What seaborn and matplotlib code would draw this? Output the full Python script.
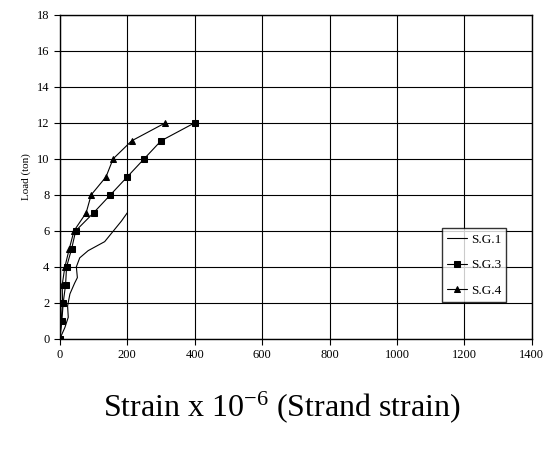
import matplotlib
matplotlib.use("Agg")
import matplotlib.pyplot as plt
import seaborn as sns

load_sg1 = [0, 0.63, 1.2, 1.83, 2.5, 3.1, 3.4, 4, 4.5, 4.9, 5.4, 6.55, 7]
strain_sg1 = [0, 15, 25, 23, 30, 44, 52, 49, 59, 84, 133, 183, 200]

load_sg3 = [0, 1, 2, 3, 4, 5, 6, 7, 8, 9, 10, 11, 12]
strain_sg3 = [0, 6, 10, 17, 20, 35, 47, 100, 150, 200, 250, 300, 400]

load_sg4 = [0, 1, 2, 3, 4, 5, 6, 7, 8, 9, 10, 11, 12]
strain_sg4 = [0, 4, 8, 7, 15, 28, 42, 78, 93, 137, 158, 213, 313]

sns.set_style("white")
plt.rcParams['font.family'] = ['Liberation Serif', 'DejaVu Serif']
plt.rcParams['mathtext.fontset'] = 'custom'
plt.rcParams['mathtext.rm'] = 'Liberation Serif'
plt.rcParams['mathtext.default'] = 'regular'
plt.rcParams['text.color'] = 'black'
plt.rcParams['axes.labelcolor'] = 'black'
plt.rcParams['xtick.color'] = 'black'
plt.rcParams['ytick.color'] = 'black'

fig, ax = plt.subplots(figsize=(5.54, 4.5), dpi=100)
fig.subplots_adjust(left=0.108, right=0.96, top=0.967, bottom=0.247)

mk = dict(markeredgecolor='black', markerfacecolor='black')
sns.lineplot(x=strain_sg1, y=load_sg1, ax=ax, color='black', lw=0.8,
             sort=False, label='S.G.1')
sns.lineplot(x=strain_sg3, y=load_sg3, ax=ax, color='black', lw=0.8,
             marker='s', markersize=5, sort=False, label='S.G.3', **mk)
sns.lineplot(x=strain_sg4, y=load_sg4, ax=ax, color='black', lw=0.8,
             marker='^', markersize=5, sort=False, label='S.G.4', **mk)

ax.set_xlim(0, 1400)
ax.set_ylim(0, 18)
ax.set_xticks(range(0, 1401, 200))
ax.set_yticks(range(0, 19, 2))
ax.grid(True, color='black', lw=0.8)
for s in ax.spines.values():
    s.set_color('black')
    s.set_linewidth(1.0)
ax.tick_params(labelsize=9, length=4, color='black', direction='out', left=True, bottom=True)

ax.set_ylabel('Load (ton)', fontsize=8)
ax.set_xlabel('Strain x 10$^{-6}$ (Strand strain)', fontsize=23, labelpad=20)
ax.xaxis.label.set_x(0.47)

leg = ax.legend(loc='lower right', bbox_to_anchor=(0.96, 0.093), fontsize=9.5,
                frameon=True, fancybox=False, edgecolor='black', handlelength=1.5,
                borderpad=0.4, labelspacing=1.0, handletextpad=0.3)
leg.get_frame().set_linewidth(1.0)

fig.savefig('out.png', dpi=100, facecolor='white')
